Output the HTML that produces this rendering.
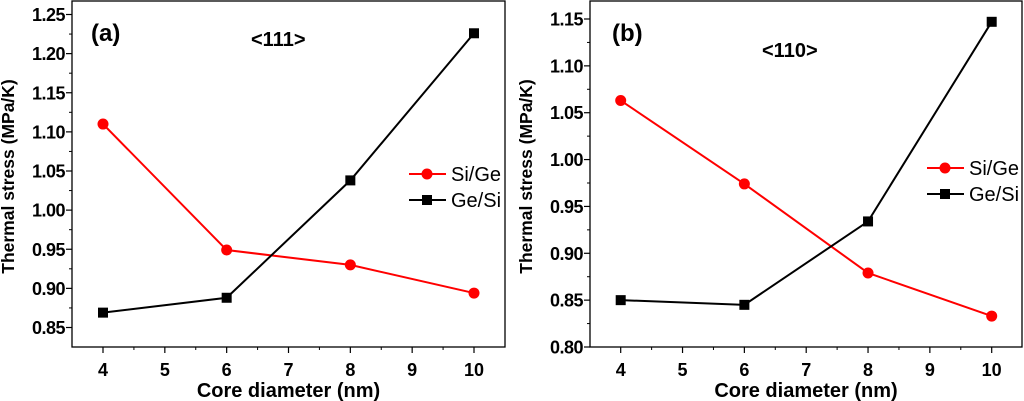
<!DOCTYPE html>
<html><head><meta charset="utf-8"><style>
body{margin:0;background:#fff}
svg{display:block;font-family:"Liberation Sans",Arial,sans-serif;font-weight:bold}
</style></head><body>
<svg id="c" width="1024" height="401"></svg>
<script>
const xCats=[4,6,8,10];
const aSiGe=[1.11,0.949,0.93,0.894];
const aGeSi=[0.869,0.888,1.038,1.226];
const bSiGe=[1.063,0.974,0.879,0.833];
const bGeSi=[0.850,0.845,0.934,1.147];
const xTicks=[4,5,6,7,8,9,10];
const aYTicks=[0.85,0.90,0.95,1.00,1.05,1.10,1.15,1.20,1.25];
const bYTicks=[0.80,0.85,0.90,0.95,1.00,1.05,1.10,1.15];
const NS="http://www.w3.org/2000/svg";
const svg=document.getElementById('c');
function mk(t,a,p){const e=document.createElementNS(NS,t);for(const k in a)e.setAttribute(k,a[k]);(p||svg).appendChild(e);return e;}
function panel(o){
  const g=mk('g',{});
  
  
  const X=v=>o.x0+(v-4)*(o.x1-o.x0)/6;
  const Y=v=>o.yB+(v-o.yv0)*(o.yT-o.yB)/(o.yv1-o.yv0);
  const f=mk('rect',{x:o.L,y:1,width:o.R-o.L,height:o.B-1,fill:'none',stroke:'#000','stroke-width':1.3},g);
  
  xTicks.forEach(v=>{const x=X(v);mk('line',{x1:x,x2:x,y1:o.B,y2:o.B+6,stroke:'#000','stroke-width':1.2},g);
    if(v<10){const xm=X(v+0.5);mk('line',{x1:xm,x2:xm,y1:o.B,y2:o.B+3,stroke:'#000'},g);}
    const t=mk('text',{x:x,y:o.B+29,'text-anchor':'middle','font-size':18},g);t.textContent=v;
    });
  o.yt.forEach((v,i)=>{const y=Y(v);mk('line',{x1:o.L-6,x2:o.L,y1:y,y2:y,stroke:'#000','stroke-width':1.2},g);
    if(i<o.yt.length-1){const ym=Y(v+0.025);mk('line',{x1:o.L-3,x2:o.L,y1:ym,y2:ym,stroke:'#000'},g);}
    const t=mk('text',{x:o.L-7,y:y+6.5,'text-anchor':'end','font-size':18,'letter-spacing':-0.5},g);t.textContent=v.toFixed(2);
    });
  const xt=mk('text',{x:(o.L+o.R)/2,y:397,'text-anchor':'middle','font-size':20},g);xt.textContent='Core diameter (nm)';
  
  const yt=mk('text',{x:0,y:0,'text-anchor':'middle','font-size':17.5,transform:`translate(${o.L-58},${o.B/2+3}) rotate(-90)`},g);yt.textContent='Thermal stress (MPa/K)';
  
  const pl=mk('text',{x:o.lx,y:41,'font-size':24},g);pl.textContent=o.label;
  
  const dl=mk('text',{x:o.dx,y:o.dy,'font-size':20},g);dl.textContent=o.dir;
  
  [[o.r,'#f00','circle','si-ge-series'],[o.k,'#000','square','ge-si-series']].forEach(([d,c,m,n])=>{
    const s=mk('g',{},g);
    mk('polyline',{points:d.map((v,i)=>X(xCats[i])+','+Y(v)).join(' '),fill:'none',stroke:c,'stroke-width':2},s);
    d.forEach((v,i)=>{let e;if(m=='circle')e=mk('circle',{cx:X(xCats[i]),cy:Y(v),r:5.5,fill:c},s);
      else e=mk('rect',{x:X(xCats[i])-5,y:Y(v)-5,width:10,height:10,fill:c},s);
      });
  });
  [[o.ly,'#f00','circle','Si/Ge'],[o.ly+26,'#000','square','Ge/Si']].forEach(([y,c,m,t])=>{
    const s=mk('g',{},g);
    mk('line',{x1:o.lgx,x2:o.lgx+37,y1:y,y2:y,stroke:c,'stroke-width':2},s);
    if(m=='circle')mk('circle',{cx:o.lgx+18,cy:y,r:5.5,fill:c},s);else mk('rect',{x:o.lgx+13,y:y-5,width:10,height:10,fill:c},s);
    const tx=mk('text',{x:o.lgx+42,y:y+7,'font-size':20,'font-weight':'normal'},s);tx.textContent=t;
  });
}
panel({name:'panel-a',L:72,R:505,B:347,x0:103,x1:474,yB:327.5,yT:14.5,yv0:0.85,yv1:1.25,yt:aYTicks,
  r:aSiGe,k:aGeSi,label:'(a)',lx:91,dir:'<111>',dx:251,dy:46,lgx:409,ly:174});
panel({name:'panel-b',L:590,R:1022,B:347,x0:620.7,x1:991.7,yB:347,yT:19,yv0:0.80,yv1:1.15,yt:bYTicks,
  r:bSiGe,k:bGeSi,label:'(b)',lx:612,dir:'<110>',dx:762,dy:57,lgx:927,ly:168});
</script>
</body></html>
